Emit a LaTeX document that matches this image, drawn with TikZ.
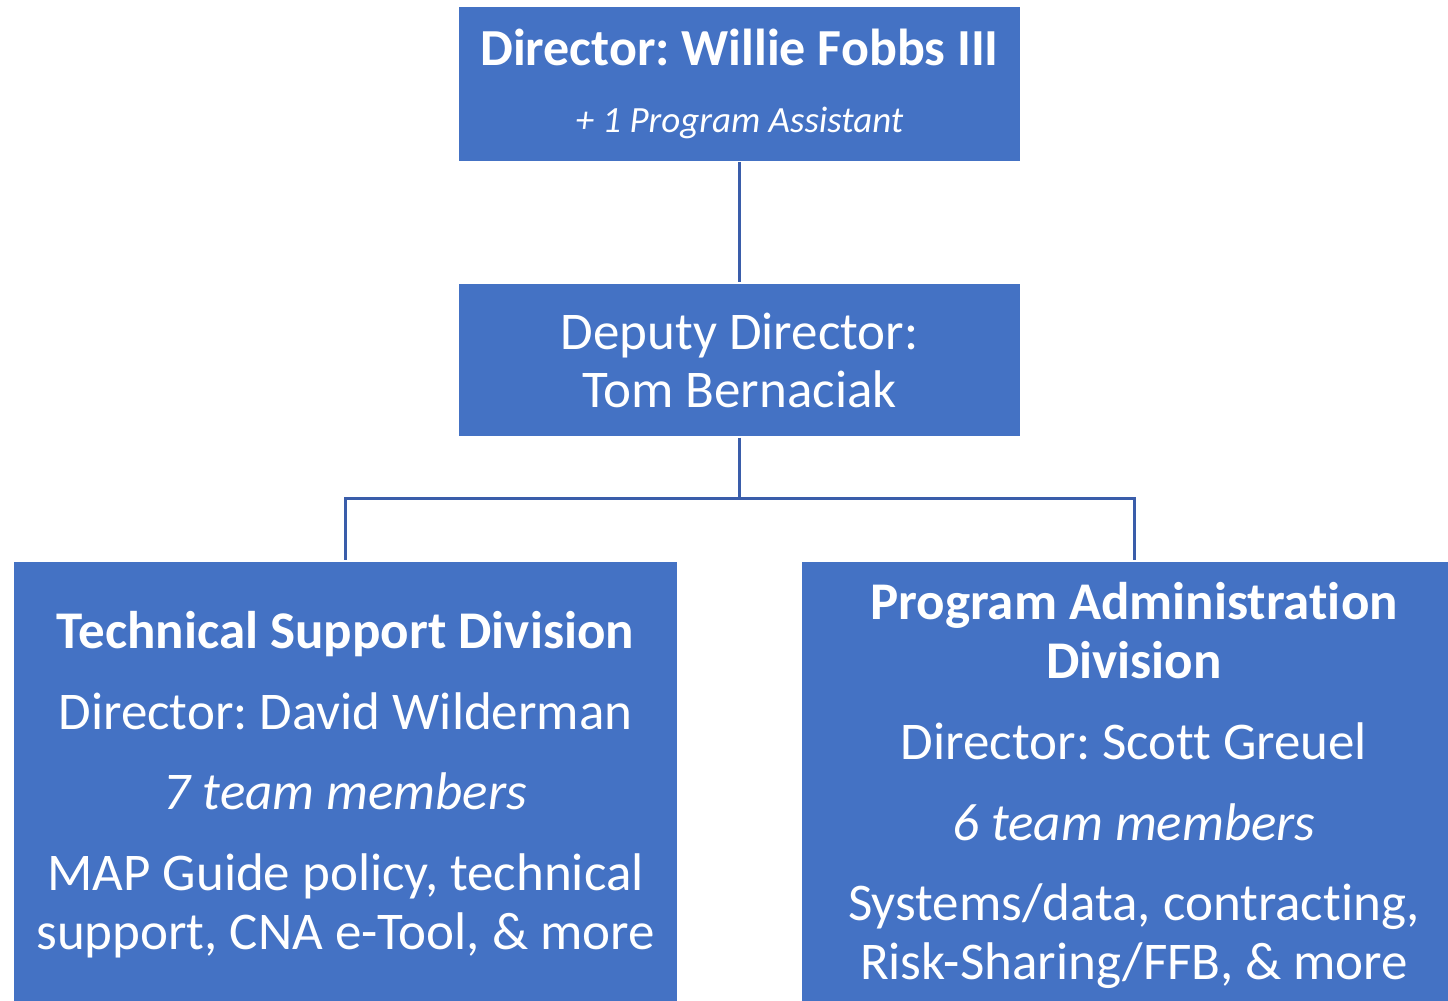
\documentclass[tikz,border=0pt]{standalone}
\usepackage{fontspec}
\setmainfont{Carlito}[RawFeature=-liga]
\usepackage{tikz}
\usetikzlibrary{positioning,calc}

\definecolor{boxblue}{HTML}{4472C4}
\definecolor{lineblue}{HTML}{3A5DAA}
\frenchspacing

\begin{document}
\begin{tikzpicture}
    [x=1pt,y=-1pt,
     every node/.style={rectangle,fill=boxblue,draw=white,line width=1.2pt,text=white,align=center,inner sep=0pt},
     orgline/.style={draw=lineblue,line width=3pt}]
    \useasboundingbox (0,0) rectangle (1448,1001);

    \node[minimum width=563pt,minimum height=155pt,font=\fontsize{52}{67}\selectfont] (dir) at (739.5,84)
        {\textbf{Director: Willie Fobbs III}\\{\itshape\fontsize{37}{44}\selectfont + 1 Program Assistant}};
    \node[minimum width=563pt,minimum height=154pt,font=\fontsize{53}{58}\selectfont] (dep) at (739.5,360)
        {Deputy Director:\\Tom Bernaciak};
    \node[minimum width=665pt,minimum height=448pt,font=\fontsize{53}{59}\selectfont] (tsd) at (345.5,785)
        {\textbf{Technical Support Division}\\[22pt]
         Director: David Wilderman\\[21pt]
         \textit{7 team members}\\[22pt]
         MAP Guide policy, technical\\
         support, CNA e-Tool, \& more};
    \node[minimum width=665pt,minimum height=448pt,font=\fontsize{53}{59}\selectfont] (pad) at (1134,785)
        {\textbf{Program Administration}\\
         \textbf{Division}\\[22pt]
         Director: Scott Greuel\\[22pt]
         \textit{6 team members}\\[21pt]
         Systems/data, contracting,\\
         Risk-Sharing/FFB, \& more};

    \coordinate (split) at (739.5,498);
    \draw[orgline] (dir.south) -- (dep.north);
    \draw[orgline] (dep.south) -- (split) -| (tsd.north);
    \draw[orgline] (split) -| (pad.north);
\end{tikzpicture}
\end{document}
